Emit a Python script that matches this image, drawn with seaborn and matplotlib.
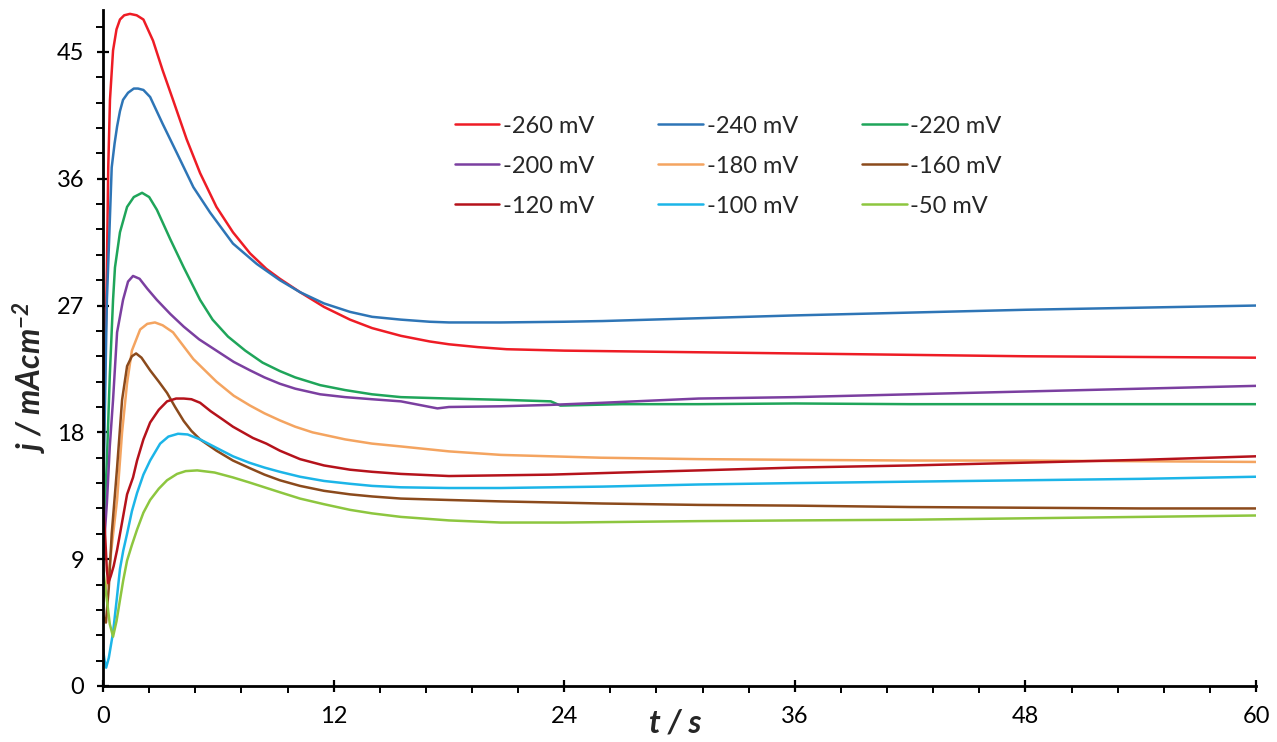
import numpy as np
import pandas as pd
import matplotlib
matplotlib.use("Agg")
import matplotlib.pyplot as plt
from matplotlib.ticker import MultipleLocator
import seaborn as sns

# datos (t en s, j en mA/cm2)
etiquetas = ["-260 mV", "-240 mV", "-220 mV", "-200 mV", "-180 mV",
             "-160 mV", "-120 mV", "-100 mV", "-50 mV"]
colores = ["#EE1C25", "#2E75B6", "#1FA55A", "#7B3FA0", "#F4A460",
           "#8B4A1C", "#B5121B", "#1CB5E8", "#8DC63F"]

t_260 = [0, 0.1, 0.2, 0.27, 0.36, 0.52, 0.7, 0.88, 1.1, 1.4, 1.75, 2.1, 2.6, 3.1, 3.64, 4.35,
         5.05, 5.9, 6.76, 7.65, 8.5, 9.2, 10.25, 11.5, 12.85, 14, 15.5, 17, 18, 19.5, 21, 24,
         30, 36, 42, 48, 54, 60]
j_260 = [14, 22, 29.7, 36.8, 41.6, 45.1, 46.6, 47.3, 47.6, 47.7, 47.6, 47.3, 45.8, 43.7, 41.6, 38.8,
         36.4, 34.0, 32.2, 30.7, 29.6, 28.9, 27.95, 26.9, 26.0, 25.4, 24.85, 24.45, 24.25, 24.05, 23.9, 23.8,
         23.7, 23.6, 23.5, 23.4, 23.35, 23.3]

t_240 = [0, 0.1, 0.2, 0.33, 0.45, 0.6, 0.73, 0.88, 1.04, 1.3, 1.6, 1.82, 2.1, 2.45, 3.1, 3.85,
         4.7, 5.57, 6.76, 8.0, 9.2, 10.25, 11.5, 12.85, 14, 15.5, 17, 18, 20.7, 24, 26, 31,
         36, 42, 48, 54, 60]
j_240 = [12, 20, 27.4, 32.2, 36.8, 38.5, 39.7, 40.8, 41.6, 42.1, 42.4, 42.4, 42.3, 41.8, 39.9, 37.8,
         35.4, 33.6, 31.4, 29.95, 28.8, 27.95, 27.15, 26.55, 26.2, 26.0, 25.85, 25.8, 25.8, 25.85, 25.9, 26.1,
         26.3, 26.5, 26.7, 26.85, 27.0]

t_220 = [0, 0.2, 0.35, 0.52, 0.62, 0.88, 1.25, 1.6, 2.03, 2.4, 2.8, 3.5, 4.2, 5.05, 5.7, 6.5,
         7.4, 8.3, 9.2, 10, 11.3, 12.6, 14, 15.5, 18, 21, 23.3, 23.8, 27, 31, 36, 42, 48, 54, 60]
j_220 = [10, 16, 22, 27.4, 29.7, 32.2, 34.0, 34.7, 35.0, 34.7, 33.8, 31.7, 29.7, 27.4, 26.0, 24.8,
         23.8, 22.95, 22.35, 21.9, 21.35, 21.0, 20.7, 20.5, 20.4, 20.3, 20.2, 19.9, 20.0, 20.0, 20.05,
         20.0, 20.0, 20.0, 20.0]

t_200 = [0, 0.2, 0.35, 0.52, 0.73, 1.04, 1.3, 1.56, 1.9, 2.3, 2.8, 3.5, 4.2, 5.0, 5.9, 6.8,
         7.65, 8.4, 9.2, 10, 11.3, 12.6, 14, 15.5, 17.4, 18, 20.7, 23.3, 26, 31, 36, 42, 48, 54, 60]
j_200 = [9, 13, 17, 20.3, 25.1, 27.4, 28.7, 29.1, 28.9, 28.2, 27.4, 26.4, 25.5, 24.6, 23.8, 23.0,
         22.4, 21.9, 21.45, 21.1, 20.7, 20.5, 20.35, 20.2, 19.7, 19.8, 19.85, 19.95, 20.1, 20.4, 20.5,
         20.7, 20.9, 21.1, 21.3]

t_180 = [0, 0.3, 0.5, 0.73, 0.99, 1.25, 1.5, 1.93, 2.3, 2.7, 3.1, 3.64, 4.7, 5.9, 6.8, 7.65,
         8.4, 9.2, 10.0, 10.9, 12.6, 14, 15.5, 18, 20.7, 25.9, 31, 36, 42, 48, 54, 60]
j_180 = [6, 8, 10.5, 13.2, 18.0, 21.5, 23.8, 25.3, 25.7, 25.8, 25.6, 25.1, 23.2, 21.6, 20.6, 19.9,
         19.35, 18.85, 18.4, 18.0, 17.5, 17.2, 17.0, 16.65, 16.4, 16.2, 16.1, 16.05, 16.0, 16.0, 15.95, 15.9]

t_160 = [0, 0.15, 0.3, 0.45, 0.6, 0.73, 0.99, 1.25, 1.5, 1.72, 2.0, 2.45, 2.9, 3.33, 3.75, 4.2,
         4.6, 5.05, 5.9, 6.76, 7.65, 8.4, 9.2, 10.25, 11.5, 12.85, 14, 15.5, 18, 20.7, 26, 31,
         36, 42, 48, 54, 60]
j_160 = [5, 4.5, 7, 10.8, 13.3, 15.5, 20.3, 22.7, 23.4, 23.6, 23.3, 22.4, 21.6, 20.8, 19.8, 18.8,
         18.1, 17.5, 16.7, 16.0, 15.45, 15.0, 14.6, 14.2, 13.85, 13.6, 13.45, 13.3, 13.2, 13.1, 12.95, 12.85,
         12.8, 12.7, 12.65, 12.6, 12.6]

t_120 = [0, 0.1, 0.2, 0.27, 0.4, 0.55, 0.73, 1.04, 1.25, 1.56, 1.77, 2.1, 2.45, 2.9, 3.33, 3.8,
         4.2, 4.6, 5.05, 5.6, 6.24, 6.76, 7.28, 7.8, 8.5, 9.2, 10.25, 11.5, 12.85, 14, 15.5, 18,
         20.7, 23.3, 27, 31, 36, 42, 48, 54, 60]
j_120 = [13, 10.9, 8.2, 7.3, 7.8, 8.5, 9.65, 12.0, 13.6, 14.8, 16.0, 17.5, 18.7, 19.6, 20.2, 20.4,
         20.4, 20.35, 20.1, 19.5, 18.9, 18.4, 18.0, 17.6, 17.2, 16.7, 16.1, 15.65, 15.35, 15.2, 15.05, 14.9,
         14.95, 15.0, 15.15, 15.3, 15.5, 15.65, 15.85, 16.05, 16.3]

t_100 = [0, 0.08, 0.16, 0.3, 0.52, 0.7, 0.88, 1.05, 1.25, 1.5, 1.77, 2.1, 2.45, 2.97, 3.4, 3.9,
         4.4, 5.05, 5.9, 6.76, 7.6, 8.4, 9.2, 10.25, 11.5, 12.85, 14, 15.5, 18, 20.7, 26, 31,
         36, 42, 48, 54, 60]
j_100 = [2.6, 1.8, 1.3, 2.0, 3.8, 6.0, 8.3, 9.6, 10.8, 12.4, 13.7, 15.0, 16.0, 17.2, 17.7, 17.9,
         17.85, 17.5, 16.9, 16.3, 15.85, 15.5, 15.2, 14.85, 14.55, 14.35, 14.2, 14.1, 14.05, 14.05, 14.15, 14.3,
         14.4, 14.5, 14.6, 14.7, 14.85]

t_50 = [0, 0.1, 0.2, 0.35, 0.52, 0.7, 0.88, 1.05, 1.25, 1.5, 1.77, 2.1, 2.45, 2.9, 3.33, 3.85,
        4.3, 4.9, 5.8, 6.76, 7.6, 8.4, 9.2, 10.25, 11.5, 12.85, 14, 15.5, 18, 20.7, 24, 31,
        36, 42, 48, 54, 60]
j_50 = [8.4, 7.2, 6.1, 4.4, 3.5, 4.6, 6.1, 7.5, 8.9, 10.0, 11.1, 12.3, 13.2, 14.0, 14.6, 15.05,
        15.25, 15.3, 15.15, 14.8, 14.45, 14.1, 13.75, 13.3, 12.9, 12.5, 12.25, 12.0, 11.75, 11.6, 11.6, 11.7,
        11.75, 11.8, 11.9, 12.0, 12.1]

series_t = [t_260, t_240, t_220, t_200, t_180, t_160, t_120, t_100, t_50]
series_j = [j_260, j_240, j_220, j_200, j_180, j_160, j_120, j_100, j_50]

filas = []
for lab, tt, jj in zip(etiquetas, series_t, series_j):
    for a, b in zip(tt, jj):
        filas.append({"t": a, "j": b, "E": lab})
df = pd.DataFrame(filas)

sns.set_style("ticks")
plt.rcParams['font.family'] = ['Lato', 'DejaVu Sans']
plt.rcParams['mathtext.fontset'] = 'custom'
plt.rcParams['mathtext.rm'] = 'Lato:bold:italic'
plt.rcParams['mathtext.it'] = 'Lato:bold:italic'
plt.rcParams['mathtext.bf'] = 'Lato:bold:italic'

fig = plt.figure(figsize=(12.77, 7.42), dpi=100)
ax = fig.add_axes([0.0807, 0.0755, 0.9029, 0.9115])

sns.lineplot(data=df, x="t", y="j", hue="E", hue_order=etiquetas,
             palette=dict(zip(etiquetas, colores)), sort=False,
             estimator=None, linewidth=1.8, ax=ax)

ax.set_xlim(0, 60)
ax.set_ylim(0, 48)
ax.xaxis.set_major_locator(MultipleLocator(12))
ax.xaxis.set_minor_locator(MultipleLocator(2.4))
ax.yaxis.set_major_locator(MultipleLocator(9))
ax.yaxis.set_minor_locator(MultipleLocator(1.8))
ax.tick_params(which="major", direction="inout", length=9, width=1.6,
               labelsize=17, colors="black", pad=9)
ax.tick_params(which="minor", direction="out", length=5, width=1.4, colors="black")
ax.tick_params(axis="x", which="major", pad=10)

for s in ["top", "right"]:
    ax.spines[s].set_visible(False)
for s in ["left", "bottom"]:
    ax.spines[s].set_linewidth(2)
    ax.spines[s].set_color("black")

ax.set_xlabel("t / s", fontsize=23, fontweight="bold", fontstyle="italic")
ax.set_ylabel("j / mAcm$^{-2}$", fontsize=23, fontweight="bold", fontstyle="italic")
ax.xaxis.set_label_coords(0.496, -0.034)
ax.yaxis.set_label_coords(-0.047, 0.456)

# leyenda en filas (3 columnas)
h, l = ax.get_legend_handles_labels()
orden = [0, 3, 6, 1, 4, 7, 2, 5, 8]
ax.legend([h[i] for i in orden], [l[i] for i in orden], ncol=3, frameon=False,
          loc="upper left", bbox_to_anchor=(0.356, 0.844), bbox_transform=fig.transFigure,
          fontsize=17, handlelength=1.9, handletextpad=0.15, columnspacing=2.7,
          labelspacing=0.8, borderpad=0, borderaxespad=0)

fig.savefig("out.png", dpi=100)
